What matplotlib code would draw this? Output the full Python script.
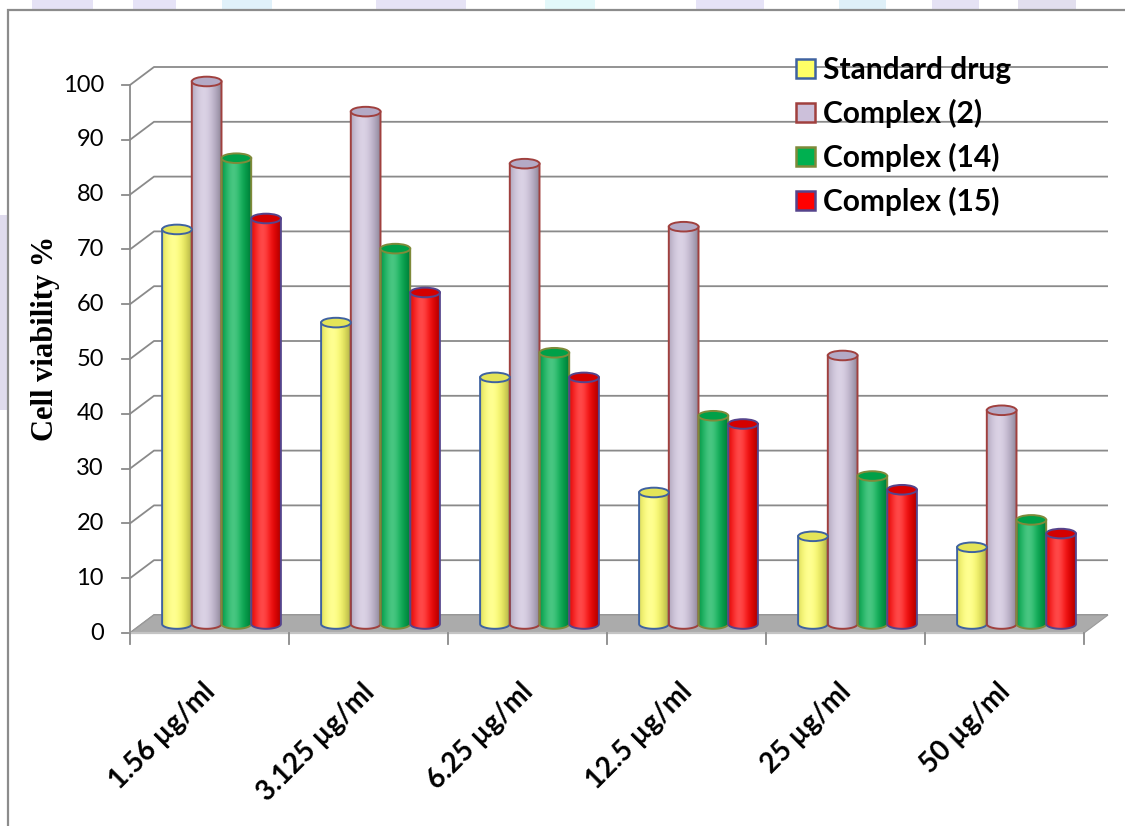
import numpy as np
import matplotlib
matplotlib.use("Agg")
import matplotlib.pyplot as plt
from matplotlib.patches import Polygon, Ellipse, PathPatch, Rectangle, Patch
from matplotlib.path import Path

# ---- data ----
categories = ["1.56 µg/ml", "3.125 µg/ml", "6.25 µg/ml", "12.5 µg/ml", "25 µg/ml", "50 µg/ml"]
series_names = ["Standard drug", "Complex (2)", "Complex (14)", "Complex (15)"]
standard_drug = [72, 55, 45, 24, 16, 14]
complex_2 = [99, 93.5, 84, 72.5, 49, 39]
complex_14 = [85, 68.5, 49.5, 38, 27, 19]
complex_15 = [74, 60.5, 45, 36.5, 24.5, 16.5]
y_ticks = [0, 10, 20, 30, 40, 50, 60, 70, 80, 90, 100]

series_values = [standard_drug, complex_2, complex_14, complex_15]
face_colors = ["#FFFF66", "#CCC0DA", "#00B050", "#FF0000"]
top_colors = ["#E4E458", "#B4AAC6", "#00A048", "#D40000"]
edge_colors = ["#3F62A0", "#A0403E", "#7F8A3A", "#55448C"]

# ---- figure / layout ----
W, H = 1125, 826
fig = plt.figure(figsize=(W / 100, H / 100), dpi=100)

# page decorations in pixel coordinates
bg = fig.add_axes([0, 0, 1, 1], zorder=0)
bg.set_xlim(0, W)
bg.set_ylim(H, 0)
bg.axis("off")
strip = [(32, 93, "#DAD6F2"), (133, 176, "#DCD8F4"), (222, 272, "#D4ECF8"),
         (376, 466, "#DCD8F2"), (545, 595, "#D8F6F8"), (696, 764, "#DCD8F4"),
         (839, 886, "#D2EAF6"), (932, 979, "#DAD6F0"), (1018, 1076, "#D6D2E8")]
for a, b, c in strip:
    bg.add_patch(Rectangle((a, 0), b - a, 10, color=c, lw=0, alpha=0.7))
bg.add_patch(Rectangle((0, 215), 7, 195, color="#DCD8EC", lw=0, alpha=0.9))
bg.add_patch(Rectangle((8, 10), W + 50, H + 50, facecolor="white",
                       edgecolor="#8C8C8C", lw=1.6))

# chart axes: one category = 159 px, one unit = 5.48 px
X0, CAT, Y0, UNIT = 130, 159.0, 633, 5.48
ax = fig.add_axes([0, 0, 1, 1], zorder=1)
ax.set_xlim(-X0 / CAT, (W - X0) / CAT)
ax.set_ylim((Y0 - H) / UNIT, Y0 / UNIT)
ax.axis("off")
ax.patch.set_alpha(0)

n_cat = len(categories)
dx = 24 / CAT          # depth offset along x
dv = 18 / UNIT         # depth offset along y
grid_c = "#8A8A8A"

# back wall + side wall gridlines
for v in y_ticks:
    ax.plot([0, dx, n_cat + dx], [v, v + dv, v + dv], color=grid_c, lw=1.3,
            zorder=2, solid_capstyle="butt")
    ax.plot([-8 / CAT, 0], [v, v], color=grid_c, lw=1.3, zorder=2)
    ax.text(-26 / CAT, v, str(v), ha="right", va="center", fontsize=17,
            family="Lato", color="black", zorder=6)
ax.plot([0, 0], [0, y_ticks[-1]], color=grid_c, lw=1.3, zorder=2)

# floor
ax.add_patch(Polygon([(0, 0), (n_cat, 0), (n_cat + dx, dv), (dx, dv)],
                     closed=True, facecolor="#ABABAB", edgecolor="#9A9A9A",
                     lw=0.8, zorder=3))
ax.plot([0, n_cat], [0, 0], color="#C4C4C4", lw=1.6, zorder=3)
for i in range(n_cat + 1):
    ax.plot([i, i], [0, -11 / UNIT], color=grid_c, lw=1.3, zorder=3)

# cylinders
bw = 29.7 / CAT
eh = 4.8 / UNIT
t = np.linspace(0, 1, 64)
light = np.exp(-((t - 0.38) / 0.28) ** 2)
dark = np.clip(np.abs(t - 0.4) / 0.6, 0, 1) ** 2


def shade(hexcol):
    rgb = np.array(matplotlib.colors.to_rgb(hexcol))
    cols = rgb[None, :] * (1 - 0.32 * dark[:, None])
    cols = cols + (1 - cols) * (0.28 * light[:, None])
    return np.clip(cols, 0, 1)[None, :, :]


base = dv / 2
arc = np.linspace(np.pi, 2 * np.pi, 40)
for j, vals in enumerate(series_values):
    grad = shade(face_colors[j])
    for i, v in enumerate(vals):
        xc = i + 0.5 + dx / 2 + (j - 1.5) * bw
        xl, xr = xc - bw / 2, xc + bw / 2
        top = v + base
        pts = [(xl, top), (xl, base)]
        pts += list(zip(xc + bw / 2 * np.cos(arc), base + eh * np.sin(arc)))
        pts += [(xr, base), (xr, top), (xl, top)]
        body = PathPatch(Path(pts, closed=True), facecolor="none",
                         edgecolor=edge_colors[j], lw=1.4, zorder=5)
        ax.add_patch(body)
        im = ax.imshow(grad, extent=(xl, xr, base - eh, top), aspect="auto",
                       interpolation="bilinear", zorder=4.5)
        im.set_clip_path(body)
        ax.add_patch(Ellipse((xc, top), bw, 2 * eh, facecolor=top_colors[j],
                             edgecolor=edge_colors[j], lw=1.4, zorder=5.5))

# category labels
for i, name in enumerate(categories):
    ax.text(i + 0.5 + 0.01, -55 / UNIT, name, rotation=45, rotation_mode="anchor",
            ha="right", va="center", fontsize=20, fontweight="bold",
            family="Lato", zorder=6)

ax.set_xlim(-X0 / CAT, (W - X0) / CAT)
ax.set_ylim((Y0 - H) / UNIT, Y0 / UNIT)

# axis title
bg.text(46, 338, "Cell viability %", rotation=90, ha="center", va="center",
        fontsize=22, fontweight="bold", family="Liberation Serif", zorder=6)

# legend
handles = [Patch(facecolor=face_colors[k], edgecolor=edge_colors[k], lw=1.8,
                 label=series_names[k]) for k in range(len(series_names))]
leg = ax.legend(handles=handles, loc="upper left", frameon=False,
                bbox_to_anchor=(796 / W, 1 - 56 / H), bbox_transform=fig.transFigure,
                prop={"family": "Lato", "weight": "bold", "size": 21.5},
                handlelength=0.64, handleheight=0.64, handletextpad=0.27,
                labelspacing=0.5, borderaxespad=0, borderpad=0)
leg.set_zorder(7)

fig.savefig("out.png", dpi=100)
